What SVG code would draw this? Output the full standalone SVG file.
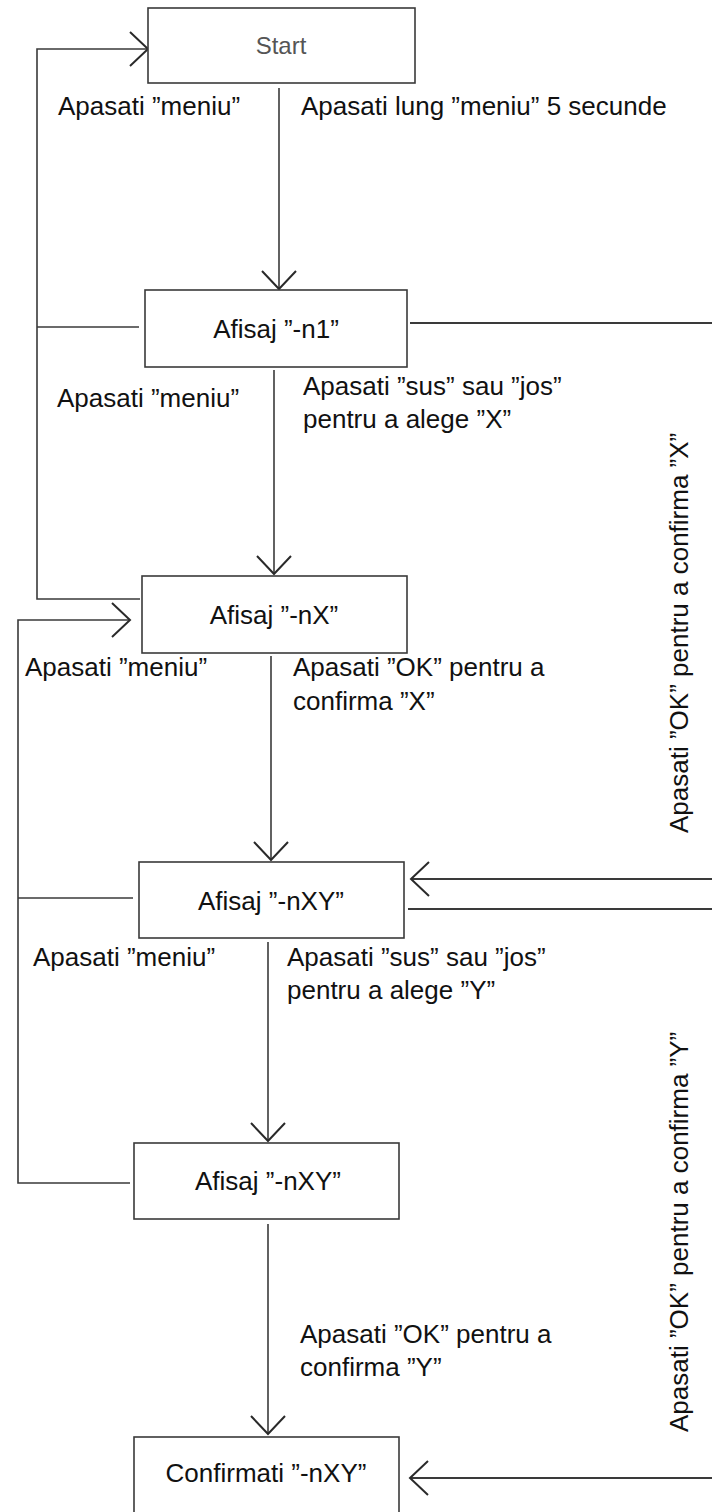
<svg xmlns="http://www.w3.org/2000/svg" width="712" height="1512" viewBox="0 0 712 1512">
<style>
.box{fill:#fff;stroke:#3a3a3a;stroke-width:1.6}
.t{font-family:"Liberation Sans",Arial,sans-serif;font-size:26px;fill:#111}
.c{text-anchor:middle}
.ln{fill:none;stroke:#3a3a3a;stroke-width:1.6}
.thk{stroke-width:2.2}
</style>
<defs>
<marker id="ah" markerUnits="userSpaceOnUse" markerWidth="40" markerHeight="40" orient="auto" refX="0" refY="0" viewBox="-20 -20 40 40" overflow="visible">
<path d="M-18,-17 L0,0 L-18,17" fill="none" stroke="#2a2a2a" stroke-width="2"/>
</marker>
</defs>
<rect width="712" height="1512" fill="#fff"/>
<g id="connectors">
<path class="ln" d="M139,327 H37"/>
<path class="ln" d="M140,599 H37 V49 H148" marker-end="url(#ah)"/>
<path class="ln" d="M133,898 H18"/>
<path class="ln" d="M130,1183 H18 V620 H130" marker-end="url(#ah)"/>
<path class="ln" d="M279,88 V289" marker-end="url(#ah)"/>
<path class="ln" d="M274,370 V574" marker-end="url(#ah)"/>
<path class="ln" d="M271,656 V860" marker-end="url(#ah)"/>
<path class="ln" d="M268,942 V1141" marker-end="url(#ah)"/>
<path class="ln" d="M268,1224 V1434" marker-end="url(#ah)"/>
<path class="ln thk" d="M410,323 H712"/>
<path class="ln thk" d="M712,879 H411" marker-end="url(#ah)"/>
<path class="ln thk" d="M408,909 H712"/>
<path class="ln thk" d="M712,1478 H410" marker-end="url(#ah)"/>
</g>
<g id="labels">
<text class="t" x="58" y="115">Apasati ”meniu”</text>
<text class="t" x="301" y="115">Apasati lung ”meniu” 5 secunde</text>
<text class="t" x="57" y="407">Apasati ”meniu”</text>
<text class="t" x="303" y="395">Apasati ”sus” sau ”jos”</text>
<text class="t" x="303" y="428">pentru a alege ”X”</text>
<text class="t" x="25" y="676">Apasati ”meniu”</text>
<text class="t" x="293" y="676">Apasati ”OK” pentru a</text>
<text class="t" x="293" y="710">confirma ”X”</text>
<text class="t" x="33" y="966">Apasati ”meniu”</text>
<text class="t" x="287" y="966">Apasati ”sus” sau ”jos”</text>
<text class="t" x="287" y="999">pentru a alege ”Y”</text>
<text class="t" x="300" y="1343">Apasati ”OK” pentru a</text>
<text class="t" x="300" y="1376">confirma ”Y”</text>
<text class="t" transform="translate(688,833) rotate(-90)">Apasati ”OK” pentru a confirma ”X”</text>
<text class="t" transform="translate(688,1432) rotate(-90)">Apasati ”OK” pentru a confirma ”Y”</text>
</g>
<g id="start">
<rect class="box" x="148" y="8" width="267" height="75"/>
<text class="t c" x="281" y="54" style="fill:#555;font-size:24px">Start</text>
</g>
<g id="afisaj-n1">
<rect class="box" x="145" y="290" width="262" height="77"/>
<text class="t c" x="276" y="338">Afisaj ”-n1”</text>
</g>
<g id="afisaj-nX">
<rect class="box" x="142" y="576" width="265" height="77"/>
<text class="t c" x="274" y="624">Afisaj ”-nX”</text>
</g>
<g id="afisaj-nXY-1">
<rect class="box" x="139" y="862" width="265" height="76"/>
<text class="t c" x="271" y="910">Afisaj ”-nXY”</text>
</g>
<g id="afisaj-nXY-2">
<rect class="box" x="134" y="1143" width="265" height="76"/>
<text class="t c" x="268" y="1190">Afisaj ”-nXY”</text>
</g>
<g id="confirmati">
<rect class="box" x="134" y="1437" width="265" height="90"/>
<text class="t c" x="266" y="1482">Confirmati ”-nXY”</text>
</g>
</svg>
